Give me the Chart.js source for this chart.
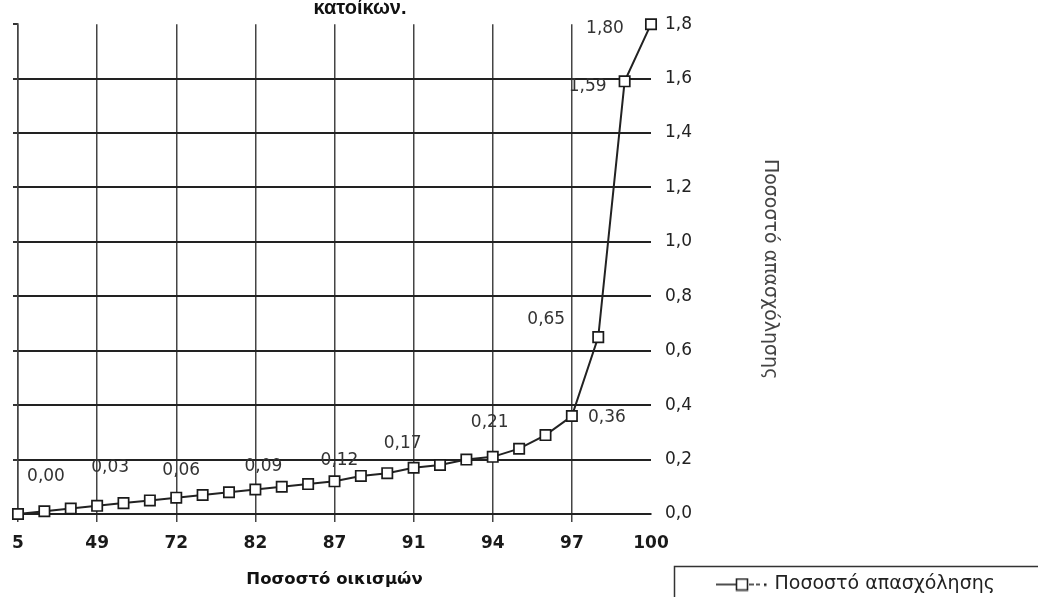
<!DOCTYPE html>
<html><head><meta charset="utf-8">
<script src="https://cdn.jsdelivr.net/npm/chart.js@4.4.1/dist/chart.umd.min.js"></script>
<style>html,body{margin:0;padding:0;background:#fff;}canvas{display:block;}</style>
</head><body>
<canvas id="c" width="1038" height="597"></canvas>
<script>
// ---- data ----
const categories = ['5','','','49','','','72','','','82','','','87','','','91','','','94','','','97','','','100'];
const employmentShare = [0.00,0.01,0.02,0.03,0.04,0.05,0.06,0.07,0.08,0.09,0.10,0.11,0.12,0.14,0.15,0.17,0.18,0.20,0.21,0.24,0.29,0.36,0.65,1.59,1.80];
const yTicks = [0,0.2,0.4,0.6,0.8,1.0,1.2,1.4,1.6,1.8];
const seriesName = 'Ποσοστό απασχόλησης';
const xTitle = 'Ποσοστό οικισμών';
const yTitle = 'Ποσοστό απασχόλησης';
const chartTitle = 'κατοίκων.';
const labelledPoints = [0,3,6,9,12,15,18,21,22,23,24];

// ---- style / placement ----
const labelOffsets = [[28,-37],[13,-38],[5,-27],[8,-23],[5,-21],[-11,-24],[-3,-34],[35,2],[-52,-18],[-37,5],[-46,4]];
const FONT = "'DejaVu Sans', Verdana, sans-serif";
const FONT_ARIAL = "'Liberation Sans', Arial, sans-serif";
Chart.defaults.font.family = FONT;
const fmt = (v, d) => v.toFixed(d).replace('.', ',');

// legend symbol: —□-·
const sym = document.createElement('canvas');
sym.width = 52; sym.height = 14;
(function(){
  const g = sym.getContext('2d');
  g.strokeStyle = '#222'; g.lineWidth = 1.6;
  g.beginPath(); g.moveTo(0,7); g.lineTo(20,7); g.stroke();
  g.fillStyle = '#fff'; g.fillRect(20,1,12,12);
  g.strokeRect(20.5,1.5,11,11);
  g.beginPath(); g.moveTo(33,7); g.lineTo(38,7); g.moveTo(40,7); g.lineTo(44,7); g.stroke();
  g.fillStyle = '#222'; g.fillRect(48,6,2.5,2.5);
})();

const extras = {
  id: 'extras',
  afterLayout(chart) {
    const lg = chart.legend;
    if (lg) {
      const w = lg.width, h = lg.height;
      lg.left = 709; lg.top = 565; lg.right = 709 + w; lg.bottom = 565 + h;
    }
  },
  afterDatasetsDraw(chart) {
    const ctx = chart.ctx;
    const meta = chart.getDatasetMeta(0);
    ctx.save();
    ctx.font = '17px ' + FONT;
    ctx.fillStyle = '#333';
    ctx.textAlign = 'center';
    ctx.textBaseline = 'middle';
    labelledPoints.forEach((idx, k) => {
      const el = meta.data[idx];
      const [dx, dy] = labelOffsets[k];
      ctx.fillText(fmt(employmentShare[idx], 2), el.x + dx, el.y + dy);
    });
    ctx.restore();
  },
  afterDraw(chart) {
    const ctx = chart.ctx;
    ctx.save();
    ctx.font = 'bold 20px ' + FONT_ARIAL;
    ctx.fillStyle = '#111';
    ctx.textAlign = 'center';
    ctx.textBaseline = 'alphabetic';
    ctx.fillText(chartTitle, 360, 14);
    ctx.strokeStyle = '#333';
    ctx.lineWidth = 1.5;
    ctx.strokeRect(674.5, 566.5, 420, 60);
    ctx.restore();
  }
};

new Chart(document.getElementById('c'), {
  type: 'line',
  data: {
    labels: categories,
    datasets: [{
      label: seriesName,
      data: employmentShare,
      borderColor: '#222',
      borderWidth: 2,
      pointStyle: 'rect',
      pointRadius: 7.3,
      pointBackgroundColor: '#fff',
      pointBorderColor: '#1a1a1a',
      pointBorderWidth: 1.7,
      tension: 0,
      clip: false
    }]
  },
  options: {
    responsive: false,
    animation: false,
    events: [],
    layout: { padding: { top: 21, left: 13, right: 0, bottom: 0 } },
    plugins: {
      title: { display: false },
      tooltip: { enabled: false },
      legend: {
        position: 'chartArea',
        align: 'start',
        labels: {
          usePointStyle: true,
          pointStyle: sym,
          pointStyleWidth: 46,
          padding: 10,
          color: '#222',
          font: { size: 19, family: FONT }
        }
      }
    },
    scales: {
      x: {
        type: 'category',
        afterFit: s => { s.height = 83; },
        grid: {
          color: c => (c.tick && c.tick.label !== '' && c.index < categories.length - 1) ? '#444' : 'rgba(0,0,0,0)',
          lineWidth: 1.5,
          drawTicks: true,
          tickLength: 8
        },
        border: { display: true, color: '#222', width: 2 },
        ticks: {
          autoSkip: false, maxRotation: 0, minRotation: 0, padding: 11,
          color: '#1a1a1a', font: { size: 17, weight: 'bold' },
          callback: (v, i) => categories[i]
        },
        title: { display: true, text: xTitle, color: '#111', font: { size: 16.5, weight: 'bold' }, padding: { top: 0, bottom: 7 } }
      },
      yL: {
        position: 'left',
        min: 0, max: 1.8,
        afterFit: s => { s.width = 5; },
        afterBuildTicks: s => { s.ticks = yTicks.map(v => ({ value: v })); },
        ticks: { display: false },
        grid: { drawOnChartArea: false, drawTicks: true, tickLength: 5, color: '#333', lineWidth: 2 },
        border: { display: true, color: '#444', width: 1.5 }
      },
      y: {
        position: 'right',
        min: 0, max: 1.8,
        afterFit: s => { s.width = 387; },
        afterBuildTicks: s => { s.ticks = yTicks.map(v => ({ value: v })); },
        grid: {
          color: c => (c.tick && c.tick.value > 1.75) ? 'rgba(0,0,0,0)' : '#222',
          lineWidth: 2,
          drawTicks: false
        },
        border: { display: false },
        ticks: {
          padding: 14, color: '#222', font: { size: 17 },
          callback: v => fmt(v, 1)
        },
        title: { display: true, text: yTitle, color: '#444', font: { size: 19 }, padding: { top: 257, bottom: 0 } }
      }
    }
  },
  plugins: [extras]
});
</script>
</body></html>
